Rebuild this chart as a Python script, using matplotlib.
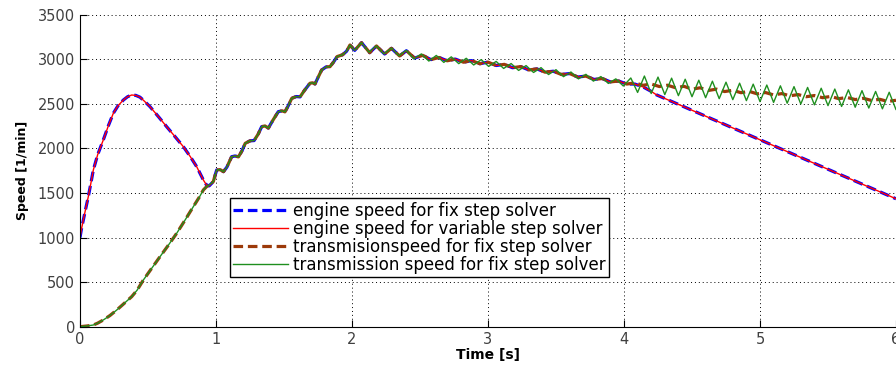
import numpy as np
import matplotlib.pyplot as plt

# engine speed before lock-up (t [s], n [1/min])
eng_t0 = [0.0, 0.01, 0.025, 0.04, 0.061, 0.08, 0.098, 0.13, 0.171, 0.21, 0.245,
          0.28, 0.319, 0.35, 0.38, 0.41, 0.441, 0.47, 0.515, 0.58, 0.637, 0.70,
          0.76, 0.81, 0.858, 0.907, 0.93, 0.95]
eng_v0 = [1000, 1090, 1200, 1310, 1458, 1610, 1758, 1930, 2094, 2260, 2394,
          2480, 2543, 2580, 2599, 2595, 2575, 2535, 2468, 2350, 2244, 2130,
          2019, 1910, 1795, 1646, 1590, 1580]

# transmission speed before lock-up
trn_t0 = [0.0, 0.05, 0.098, 0.13, 0.171, 0.22, 0.27, 0.32, 0.38, 0.42, 0.466,
          0.52, 0.588, 0.65, 0.711, 0.77, 0.833, 0.88, 0.907, 0.93, 0.95]
trn_v0 = [0, 8, 19, 40, 75, 125, 187, 255, 337, 410, 524,
          640, 785, 915, 1048, 1190, 1346, 1460, 1534, 1570, 1590]

# common run-up after lock-up (all four curves)
com_ta = [0.98, 1.005, 1.03, 1.055, 1.08, 1.115, 1.14, 1.165, 1.19, 1.215, 1.25,
          1.28, 1.31, 1.336, 1.36, 1.385, 1.42, 1.458, 1.485, 1.507, 1.53, 1.557,
          1.59, 1.618, 1.65, 1.691, 1.71, 1.728, 1.75, 1.777, 1.81, 1.838, 1.865,
          1.89, 1.93, 1.96, 1.985, 2.02, 2.07]
com_va = [1627, 1758, 1762, 1739, 1790, 1907, 1915, 1905, 1970, 2057, 2085,
          2088, 2160, 2244, 2252, 2228, 2320, 2412, 2422, 2410, 2475, 2562,
          2582, 2578, 2650, 2731, 2736, 2723, 2795, 2880, 2915, 2917, 2970,
          3030, 3050, 3090, 3160, 3100, 3186]
com_tb = [2.13, 2.18, 2.24, 2.29, 2.35, 2.40]
com_vb = [3074, 3149, 3059, 3123, 3037, 3096]

# fix step solver, engine and transmission together up to 4 s
mid_t = [2.46, 2.52, 2.58, 2.64, 2.70, 2.76, 2.82, 2.88, 2.94, 3.00, 3.06, 3.12,
         3.18, 3.24, 3.30, 3.36, 3.42, 3.48, 3.54, 3.60, 3.66, 3.72, 3.78, 3.84,
         3.90, 3.96, 4.02]
mid_v = [3013, 3044, 2996, 3020, 2983, 3002, 2967, 2985, 2950, 2968, 2930, 2943,
         2905, 2918, 2880, 2892, 2855, 2866, 2829, 2840, 2801, 2811, 2774, 2784,
         2746, 2756, 2722]

# transmission speed, fix step, after 4 s
trf_t = [4.08, 4.14, 4.20, 4.26, 4.32, 4.38, 4.44, 4.50, 4.56, 4.62, 4.68, 4.74,
         4.80, 4.86, 4.92, 4.98, 5.04, 5.10, 5.16, 5.22, 5.28, 5.34, 5.40, 5.46,
         5.52, 5.58, 5.64, 5.70, 5.76, 5.82, 5.88, 5.94, 6.00]
trf_v = [2735, 2708, 2723, 2694, 2709, 2680, 2697, 2665, 2680, 2650, 2665, 2638,
         2652, 2625, 2640, 2612, 2627, 2600, 2615, 2590, 2604, 2580, 2593, 2569,
         2583, 2558, 2572, 2548, 2562, 2538, 2551, 2527, 2540]

# engine speed after 4 s
eng_t1 = [4.08, 4.14, 4.20, 4.24, 4.50, 5.00, 5.50, 6.00]
eng_v1 = [2722, 2690, 2640, 2600, 2428, 2097, 1766, 1435]

# transmission speed, variable step, from 2.1 s
trv_t = [2.125, 2.18, 2.235, 2.29, 2.345, 2.40, 2.455, 2.51, 2.565, 2.62, 2.675,
         2.73, 2.785, 2.84, 2.895, 2.95, 3.005, 3.06, 3.115, 3.17, 3.225, 3.28,
         3.335, 3.39, 3.445, 3.50, 3.555, 3.61, 3.665, 3.72, 3.775, 3.83, 3.885,
         3.94, 3.995, 4.05, 4.10, 4.15, 4.20, 4.25, 4.30, 4.35, 4.40, 4.45,
         4.50, 4.55, 4.60, 4.65, 4.70, 4.75, 4.80, 4.85, 4.90, 4.95, 5.00,
         5.05, 5.10, 5.15, 5.20, 5.25, 5.30, 5.35, 5.40, 5.45, 5.50, 5.55,
         5.60, 5.65, 5.70, 5.75, 5.80, 5.85, 5.90, 5.95, 6.00, 6.05]
trv_v = [3080, 3150, 3060, 3125, 3040, 3100, 3005, 3060, 2980, 3043, 2965,
         3027, 2951, 3011, 2936, 2996, 2920, 2976, 2897, 2952, 2875, 2929,
         2852, 2906, 2829, 2883, 2805, 2857, 2780, 2831, 2755, 2806, 2729,
         2780, 2700, 2790, 2628, 2812, 2616, 2800, 2604, 2788, 2592, 2776,
         2580, 2765, 2569, 2754, 2558, 2743, 2547, 2732, 2536, 2721, 2525,
         2711, 2516, 2702, 2507, 2693, 2498, 2684, 2489, 2675, 2480, 2666,
         2471, 2657, 2462, 2648, 2453, 2639, 2444, 2630, 2435, 2621]

labels = ['engine speed for fix step solver',
          'engine speed for variable step solver',
          'transmisionspeed for fix step solver',
          'transmission speed for fix step solver']

eng_t = eng_t0 + com_ta + com_tb + mid_t + eng_t1
eng_v = eng_v0 + com_va + com_vb + mid_v + eng_v1
trf_all_t = trn_t0 + com_ta + com_tb + mid_t + trf_t
trf_all_v = trn_v0 + com_va + com_vb + mid_v + trf_v
trv_all_t = trn_t0 + com_ta + trv_t
trv_all_v = trn_v0 + com_va + trv_v

fig = plt.figure(figsize=(8.96, 3.68), dpi=100)
ax = fig.add_axes([80 / 896, 41.3 / 368, 816 / 896, 312 / 368])

ax.plot(eng_t, eng_v, color='#0000ff', lw=2.3, dashes=(3, 1.5), label=labels[0])
ax.plot(eng_t, eng_v, color='#ff0000', lw=1.0, label=labels[1])
ax.plot(trf_all_t, trf_all_v, color='#9c3a0a', lw=2.3, dashes=(3, 1.5), label=labels[2])
ax.plot(trv_all_t, trv_all_v, color='#1f8f1f', lw=1.0, label=labels[3])

ax.set_xlim(0, 6)
ax.set_ylim(0, 3500)
ax.set_xticks(np.arange(0, 7, 1))
ax.set_yticks(np.arange(0, 3501, 500))
ax.tick_params(direction='in', length=5, labelsize=10.5, labelcolor='#404040')
ax.grid(True, color='k', linestyle=(0, (1, 3)), linewidth=0.7)
ax.spines['top'].set_visible(False)
ax.spines['right'].set_visible(False)

ax.set_xlabel('Time [s]', fontsize=10, fontweight='bold', labelpad=1)
ax.set_ylabel('Speed [1/min]', fontsize=9, fontweight='bold', labelpad=6)

leg = ax.legend(loc='lower left', bbox_to_anchor=(0.184, 0.159), fontsize=12,
                handlelength=3.3, handletextpad=0.3, labelspacing=0.0,
                borderpad=0.2, borderaxespad=0, fancybox=False, framealpha=1,
                edgecolor='k')
leg.get_frame().set_linewidth(1.0)

fig.savefig('out.png', dpi=100)
